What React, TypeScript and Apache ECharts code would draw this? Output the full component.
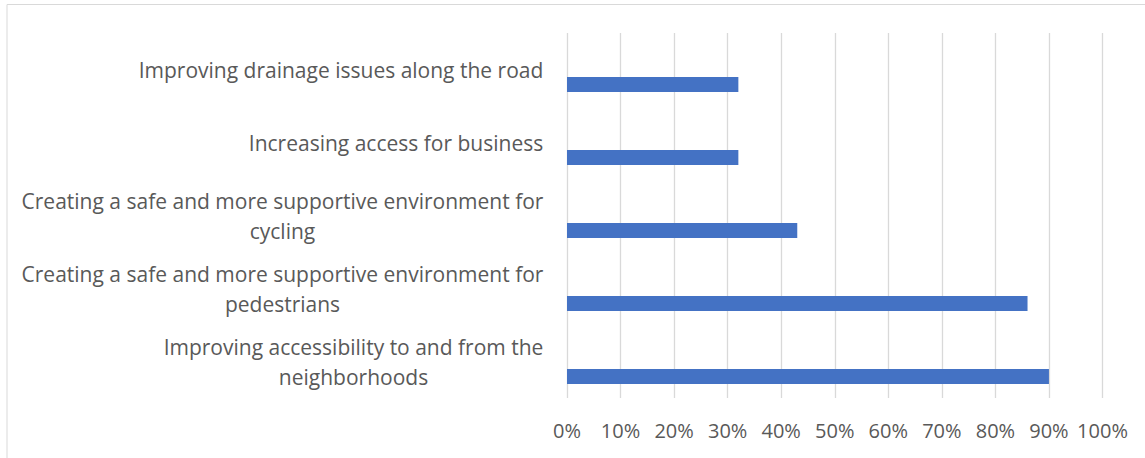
import React, { useEffect, useRef } from "react";
import * as echarts from "echarts";

const categories = [
  "Improving drainage issues along the road",
  "Increasing access for business",
  "Creating a safe and more supportive environment for\ncycling",
  "Creating a safe and more supportive environment for\npedestrians",
  "Improving accessibility to and from the\nneighborhoods",
];
const values = [32, 32, 43, 86, 90];
const spacer = categories.map(() => null);

const FONT_FAMILY = "Open Sans";
const CAT_FONT_SIZE = 21;
const TICK_FONT_SIZE = 20;

function measure(text: string): number {
  const c = document.createElement("canvas").getContext("2d")!;
  c.font = `${CAT_FONT_SIZE}px "${FONT_FAMILY}"`;
  return Math.ceil(c.measureText(text).width) + 1;
}

export default function App() {
  const ref = useRef<HTMLDivElement>(null);
  useEffect(() => {
    const chart = echarts.init(ref.current!, null, { renderer: "svg" });
    const rich: Record<string, any> = {};
    categories.forEach((cat, i) => {
      const lines = cat.split("\n");
      const w = Math.max(...lines.map(measure));
      rich["c" + i] = {
        width: w,
        align: "center",
        fontSize: CAT_FONT_SIZE,
        lineHeight: 30,
        fontFamily: FONT_FAMILY,
        color: "#595959",
      };
    });
    chart.setOption({
      animation: false,
      backgroundColor: "#ffffff",
      textStyle: { fontFamily: FONT_FAMILY },
      graphic: [
        {
          type: "rect",
          shape: { x: 7, y: 4.5, width: 1300, height: 600 },
          style: { fill: "none", stroke: "#d9d9d9", lineWidth: 1 },
          silent: true,
        },
      ],
      grid: { left: 567, right: 42.5, top: 33, bottom: 60 },
      xAxis: {
        type: "value",
        min: 0,
        max: 100,
        interval: 10,
        axisLine: { show: false },
        axisTick: { show: false },
        splitLine: { show: true, lineStyle: { color: "#d9d9d9", width: 1.3 } },
        axisLabel: {
          formatter: "{value}%",
          color: "#595959",
          fontSize: TICK_FONT_SIZE,
          lineHeight: 20,
          margin: 22,
          fontFamily: FONT_FAMILY,
        },
      },
      yAxis: {
        type: "category",
        inverse: true,
        data: categories,
        axisLine: { show: false },
        axisTick: { show: false },
        splitLine: { show: false },
        axisLabel: {
          color: "#595959",
          fontSize: CAT_FONT_SIZE,
          lineHeight: 30,
          margin: 23,
          align: "right",
          fontFamily: FONT_FAMILY,
          rich,
          formatter: (val: string) => {
            const i = categories.indexOf(val);
            return val
              .split("\n")
              .map((l) => `{c${i}|${l}}`)
              .join("\n");
          },
        },
      },
      series: [
        {
          type: "bar",
          data: spacer,
          barWidth: 15,
          barGap: "100%",
          itemStyle: { color: "transparent" },
        },
        {
          type: "bar",
          data: values,
          barWidth: 15,
          barGap: "100%",
          itemStyle: { color: "#4472C4" },
        },
      ],
    });
    return () => chart.dispose();
  }, []);
  return (
    <div
      ref={ref}
      style={{ position: "absolute", left: 0, top: 0, width: 1145, height: 458 }}
    />
  );
}
